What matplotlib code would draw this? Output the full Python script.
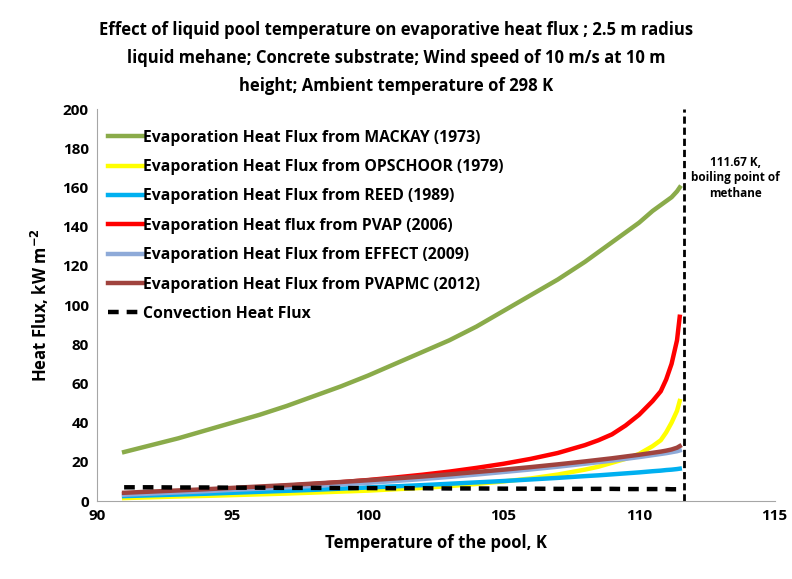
import matplotlib
matplotlib.use('Agg')
import matplotlib.pyplot as plt

plt.rcParams['font.family'] = ['Open Sans', 'DejaVu Sans']
plt.rcParams['font.weight'] = 'bold'

# Datos
temp = [91, 92, 93, 94, 95, 96, 97, 98, 99, 100, 101, 102, 103, 104, 105, 106, 107, 108,
        108.5, 109, 109.5, 110, 110.5, 110.8, 111, 111.2, 111.4, 111.5]
mackay = [25, 28.5, 32, 36, 40, 44, 48.5, 53.5, 58.5, 64, 70, 76, 82, 89, 97, 105, 113, 122,
          127, 132, 137, 142, 148, 151, 153, 155, 158, 160]
opschoor = [1.5, 1.9, 2.3, 2.6, 3.0, 3.4, 3.8, 4.3, 4.8, 5.3, 6.0, 6.7, 7.6, 8.7, 10, 11.5, 13.5, 16,
            17.5, 19.5, 21.5, 24, 28, 31, 35, 40, 46, 51]
reed = [2.5, 2.9, 3.3, 3.7, 4.2, 4.7, 5.2, 5.7, 6.3, 6.9, 7.5, 8.1, 8.8, 9.5, 10.2, 11, 11.8, 12.7,
        13.1, 13.6, 14.1, 14.6, 15.2, 15.5, 15.8, 16.0, 16.3, 16.5]
pvap = [3.5, 4.1, 4.8, 5.5, 6.2, 7.0, 7.8, 8.7, 9.6, 10.7, 12, 13.4, 15, 16.9, 19, 21.5, 24.5, 28.5,
        31, 34, 38.5, 44, 51, 56, 62, 70, 82, 94]
effect = [3.2, 3.8, 4.4, 5.0, 5.7, 6.3, 7.0, 7.7, 8.5, 9.3, 10.2, 11.2, 12.3, 13.5, 14.8, 16.1, 17.5, 19.0,
          19.8, 20.6, 21.5, 22.4, 23.4, 24.0, 24.4, 24.9, 25.4, 25.8]
pvapmc = [4.2, 4.8, 5.4, 6.0, 6.7, 7.4, 8.1, 8.9, 9.7, 10.6, 11.5, 12.5, 13.6, 14.8, 16.0, 17.3, 18.7, 20.2,
          21.0, 21.8, 22.7, 23.6, 24.6, 25.2, 25.7, 26.3, 27.2, 28.0]
convection = [7.0, 7.0, 6.9, 6.9, 6.8, 6.8, 6.7, 6.7, 6.6, 6.6, 6.5, 6.5, 6.4, 6.4, 6.3, 6.3, 6.2, 6.2,
              6.2, 6.2, 6.1, 6.1, 6.1, 6.1, 6.1, 6.0, 6.0, 6.0]
boiling = 111.67

fig = plt.figure(figsize=(7.92, 5.79), dpi=100)
ax = fig.add_axes([0.1225, 0.1347, 0.8555, 0.677])

ax.plot(temp, mackay, color='#8aab4a', lw=3.2, label='Evaporation Heat Flux from MACKAY (1973)')
ax.plot(temp, opschoor, color='#ffff00', lw=3.2, label='Evaporation Heat Flux from OPSCHOOR (1979)')
ax.plot(temp, reed, color='#00b0f0', lw=3.2, label='Evaporation Heat Flux from REED (1989)')
ax.plot(temp, pvap, color='#ff0000', lw=3.2, label='Evaporation Heat flux from PVAP (2006)')
ax.plot(temp, effect, color='#8eaad8', lw=3.2, label='Evaporation Heat Flux from EFFECT (2009)')
ax.plot(temp, pvapmc, color='#a0433e', lw=3.2, label='Evaporation Heat Flux from PVAPMC (2012)')
ax.plot(temp, convection, color='black', lw=3.2, ls=(0, (2.4, 1.8)), label='Convection Heat Flux')

ax.axvline(boiling, color='black', lw=2, ls=(0, (2.6, 1.4)))
ax.text(113.55, 165, '111.67 K,\nboiling point of\nmethane', ha='center', va='center',
        fontsize=8.5, fontweight='bold', linespacing=1.25)

ax.set_xlim(90, 115)
ax.set_ylim(0, 200)
ax.set_xticks([90, 95, 100, 105, 110, 115])
ax.set_yticks(range(0, 201, 20))
ax.tick_params(labelsize=11, length=0, pad=6)
for s in ['top', 'right']:
    ax.spines[s].set_visible(False)
for s in ['left', 'bottom']:
    ax.spines[s].set_color('#a6a6a6')

ax.set_xlabel('Temperature of the pool, K', fontsize=12, fontweight='bold', labelpad=8)
ax.set_ylabel('Heat Flux, kW m$^{\\mathbf{-2}}$', fontsize=12, fontweight='bold', labelpad=8)

leg = ax.legend(loc='upper left', bbox_to_anchor=(0.0, 0.975), frameon=False, fontsize=11.3,
                handlelength=2.2, handletextpad=0.0, labelspacing=0.85, borderaxespad=0.3)

fig.suptitle('Effect of liquid pool temperature on evaporative heat flux ; 2.5 m radius\n'
             'liquid mehane; Concrete substrate; Wind speed of 10 m/s at 10 m\n'
             'height; Ambient temperature of 298 K',
             x=0.5, y=0.963, fontsize=12, fontweight='bold', linespacing=1.7)

fig.savefig('out.png', dpi=100)
